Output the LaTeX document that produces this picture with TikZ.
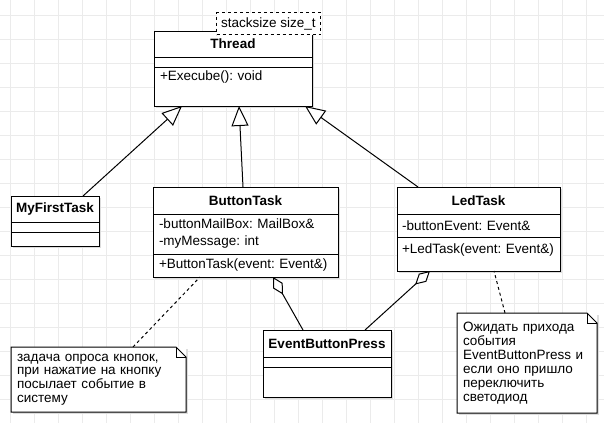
\documentclass[tikz,border=0pt]{standalone}
\usepackage{fontspec}
\setmainfont{Liberation Sans}
\usetikzlibrary{arrows.meta,positioning,shadows}
\definecolor{cGrid}{HTML}{EBEBEB}
\definecolor{cShade}{HTML}{DDDDDD}
\newcommand\umlfont{\frenchspacing\fontsize{13.5}{14}\selectfont}
\newcommand\umlattr{\frenchspacing\fontsize{13.5}{17}\selectfont}
\newcommand\umlnote{\frenchspacing\fontsize{13.5}{13.7}\selectfont}

\begin{document}
\begin{tikzpicture}[x=1pt,y=-1pt,
  gridline/.style={cGrid,line width=1pt},
  box/.style={draw=black,fill=white,line width=1pt,inner sep=0pt,outer sep=0pt,
    drop shadow={shadow xshift=2pt,shadow yshift=-2pt,fill=cShade,opacity=1}},
  ttl/.style={box,minimum width=#1,minimum height=26pt,font=\umlfont\bfseries},
  cmp/.style={box,text width=#1,inner xsep=6pt,align=left,font=\umlfont},
  inherit/.style={line width=1pt,-{Triangle[length=20pt,width=17pt,fill=white]}},
  aggr/.style={line width=1pt,{Diamond[length=20pt,width=11pt,fill=white]}-},
  notelink/.style={line width=1pt,dash pattern=on 3pt off 3pt},
  notebox/.style={fill=white,inner sep=0pt,inner xsep=6pt,outer sep=0pt,text width=#1,
    align=left,font=\umlnote,anchor=north west,
    drop shadow={shadow xshift=2pt,shadow yshift=-2pt,fill=cShade,opacity=1}},
  noteline/.style={line width=1pt}]
  \useasboundingbox (0,0) rectangle (604,423);
  \fill[white] (0,0) rectangle (604,423);
  % grid
  \foreach \gx in {10,34,...,586} \draw[gridline] (\gx,0) -- (\gx,423);
  \foreach \gy in {15,39,...,399} \draw[gridline] (0,\gy) -- (604,\gy);

  % Thread
  \node[ttl=158pt,anchor=north west] (thrT) at (154,31) {Thread};
  \node[cmp=146pt,minimum height=10pt,below=0pt of thrT] (thrA) {};
  \node[cmp=146pt,minimum height=39pt,text depth=22pt,below=0pt of thrA] (thrM) {+Execube(): void};
  \node[fill=white,draw=black,line width=1pt,dash pattern=on 3pt off 3pt,font=\umlfont,
    inner sep=0pt,minimum width=104pt,minimum height=22pt,anchor=north west] (stack) at (216,12) {stacksize size\_t};

  % MyFirstTask
  \node[ttl=88pt,anchor=north west] (myT) at (11,196) {MyFirstTask};
  \node[cmp=76pt,minimum height=10pt,below=0pt of myT] (myA) {};
  \node[cmp=76pt,minimum height=14pt,below=0pt of myA] (myM) {};

  % ButtonTask
  \node[ttl=185pt,minimum height=27pt,anchor=north west] (btnT) at (153,187) {ButtonTask};
  \node[cmp=173pt,minimum height=40pt,font=\umlattr,below=0pt of btnT] (btnA) {-buttonMailBox: MailBox\&\\-myMessage: int};
  \node[cmp=173pt,minimum height=23pt,below=0pt of btnA] (btnM) {+ButtonTask(event: Event\&)};

  % LedTask
  \node[ttl=163pt,minimum height=27pt,anchor=north west] (ledT) at (397,187) {LedTask};
  \node[cmp=153pt,inner xsep=5pt,minimum height=23pt,below=0pt of ledT] (ledA) {-buttonEvent: Event\&};
  \node[cmp=153pt,inner xsep=5pt,minimum height=34pt,text depth=11pt,below=0pt of ledA] (ledM) {+LedTask(event: Event\&)};

  % EventButtonPress
  \node[ttl=128pt,minimum height=27pt,anchor=north west] (ebpT) at (263,330) {EventButtonPress};
  \node[cmp=116pt,minimum height=10pt,below=0pt of ebpT] (ebpA) {};
  \node[cmp=116pt,minimum height=30pt,below=0pt of ebpA] (ebpM) {};

  % notes
  \node[notebox=163pt,minimum height=65pt] (noteBtn) at (11,347)
    {задача опроса кнопок,\\при нажатие на кнопку\\посылает событие в\\систему};
  \draw[noteline] (noteBtn.north west) -- ([xshift=-10pt]noteBtn.north east)
    -- ([yshift=-10pt]noteBtn.north east) -- (noteBtn.south east) -- (noteBtn.south west) -- cycle;
  \draw[noteline] ([xshift=-10pt]noteBtn.north east) |- ([yshift=-10pt]noteBtn.north east);

  \node[notebox=128pt,minimum height=100pt,font=\umlfont] (noteLed) at (457,313)
    {Ожидать прихода\\события\\EventButtonPress и\\если оно пришло\\переключить\\светодиод};
  \draw[noteline] (noteLed.north west) -- ([xshift=-10pt]noteLed.north east)
    -- ([yshift=-10pt]noteLed.north east) -- (noteLed.south east) -- (noteLed.south west) -- cycle;
  \draw[noteline] ([xshift=-10pt]noteLed.north east) |- ([yshift=-10pt]noteLed.north east);

  % connectors
  \draw[inherit] ([xshift=28pt]myT.north) -- ([xshift=-51pt]thrM.south);
  \draw[inherit] ([xshift=-2.5pt]btnT.north) -- ([xshift=6pt]thrM.south);
  \draw[inherit] ([xshift=-60.5pt]ledT.north) -- ([xshift=72pt]thrM.south);
  \draw[aggr] ([xshift=27.5pt]btnM.south) -- ([xshift=-24pt]ebpT.north);
  \draw[aggr] ([xshift=-48.5pt]ledM.south) -- ([xshift=38pt]ebpT.north);
  \draw[notelink] ([xshift=34.5pt]noteBtn.north) -- ([xshift=-45.5pt]btnM.south);
  \draw[notelink] ([xshift=-22pt]noteLed.north) -- ([xshift=15.5pt]ledM.south);
\end{tikzpicture}
\end{document}
